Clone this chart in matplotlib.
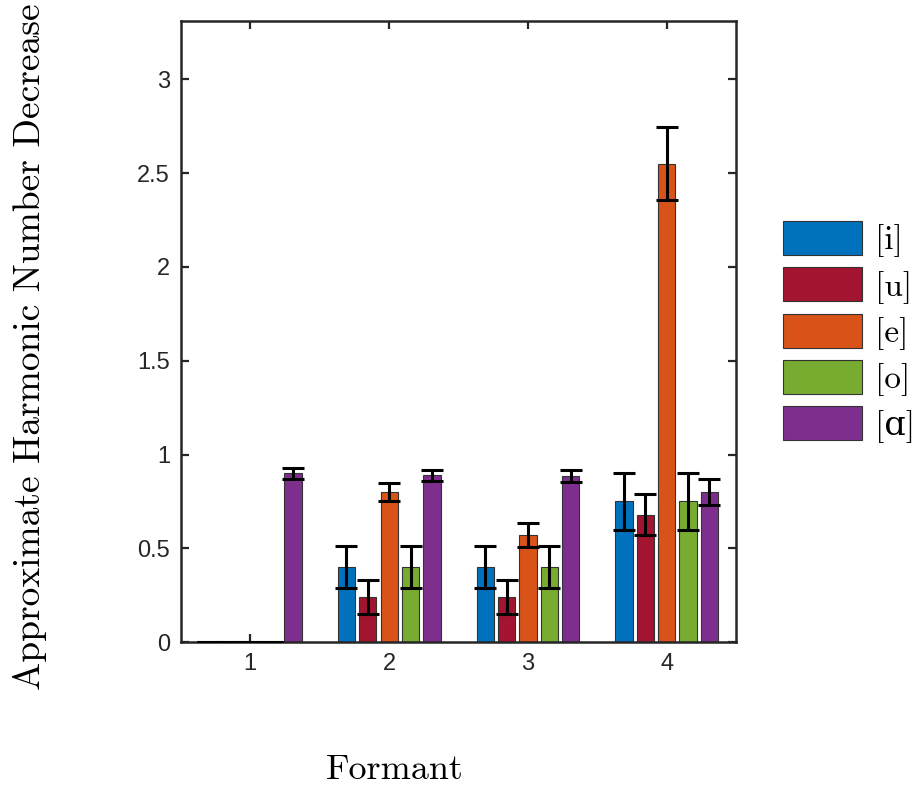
import numpy as np
import matplotlib.pyplot as plt
from matplotlib.patches import Patch

formants = [1, 2, 3, 4]
vowels = ['[i]', '[u]', '[e]', '[o]', '[ɑ]']
colors = ['#0072BD', '#A2142F', '#D95319', '#77AC30', '#7E2F8E']

# mean decrease per vowel, one value per formant
means_i = [0.0, 0.40, 0.40, 0.75]
means_u = [0.0, 0.24, 0.24, 0.68]
means_e = [0.0, 0.80, 0.57, 2.55]
means_o = [0.0, 0.40, 0.40, 0.75]
means_a = [0.90, 0.89, 0.885, 0.80]

# error bar half-lengths
err_i = [0.0, 0.11, 0.11, 0.15]
err_u = [0.0, 0.09, 0.09, 0.11]
err_e = [0.0, 0.05, 0.063, 0.195]
err_o = [0.0, 0.11, 0.11, 0.15]
err_a = [0.03, 0.03, 0.03, 0.07]

means = [means_i, means_u, means_e, means_o, means_a]
errs = [err_i, err_u, err_e, err_o, err_a]

serif = ['cmr10', 'DejaVu Serif']
plt.rcParams['axes.formatter.use_mathtext'] = True

W, H = 919, 785
fig = plt.figure(figsize=(W / 100, H / 100), dpi=100)
ax = fig.add_axes([0.197, 0.182, 0.604, 0.791])

x = np.array(formants, dtype=float)
step = 0.154
bw = 0.125
for k in range(5):
    xs = x + (k - 2) * step
    ax.bar(xs, means[k], width=bw, color=colors[k], edgecolor='#333333',
           linewidth=0.8, label=vowels[k], zorder=2)
    ax.errorbar(xs, means[k], yerr=errs[k], fmt='none', ecolor='black',
                elinewidth=2.2, capsize=8, capthick=2.2, zorder=3)

ax.set_xlim(0.5, 4.5)
ax.set_ylim(0, 3.31)
ax.set_xticks(formants)
ax.set_yticks([0, 0.5, 1, 1.5, 2, 2.5, 3])
ax.set_yticklabels(['0', '0.5', '1', '1.5', '2', '2.5', '3'])

for lab in ax.get_xticklabels() + ax.get_yticklabels():
    lab.set_fontfamily('Liberation Sans')
    lab.set_fontsize(17)
    lab.set_color('#262626')

ax.tick_params(direction='in', length=6, width=1.6, top=True, right=True,
               color='#262626', pad=8)
for s in ax.spines.values():
    s.set_linewidth(1.8)
    s.set_color('#262626')

# axis titles placed in figure pixels
fig.text(395 / W, 1 - 770 / H, 'Formant', family=serif, fontsize=26,
         ha='center', va='center')
fig.text(30 / W, 1 - 347 / H, 'Approximate Harmonic Number Decrease',
         family=serif, fontsize=27, rotation=90, ha='center', va='center')

handles = [Patch(facecolor=c, edgecolor='#333333', linewidth=0.8) for c in colors]
fig.legend(handles, vowels, loc='upper left',
           bbox_to_anchor=(783 / W, 1 - 221 / H), bbox_transform=fig.transFigure,
           frameon=False, prop={'family': serif, 'size': 24},
           handlelength=2.37, handleheight=1.2, labelspacing=0.3,
           handletextpad=0.38, borderaxespad=0, borderpad=0)

fig.savefig('out.png', dpi=100)
